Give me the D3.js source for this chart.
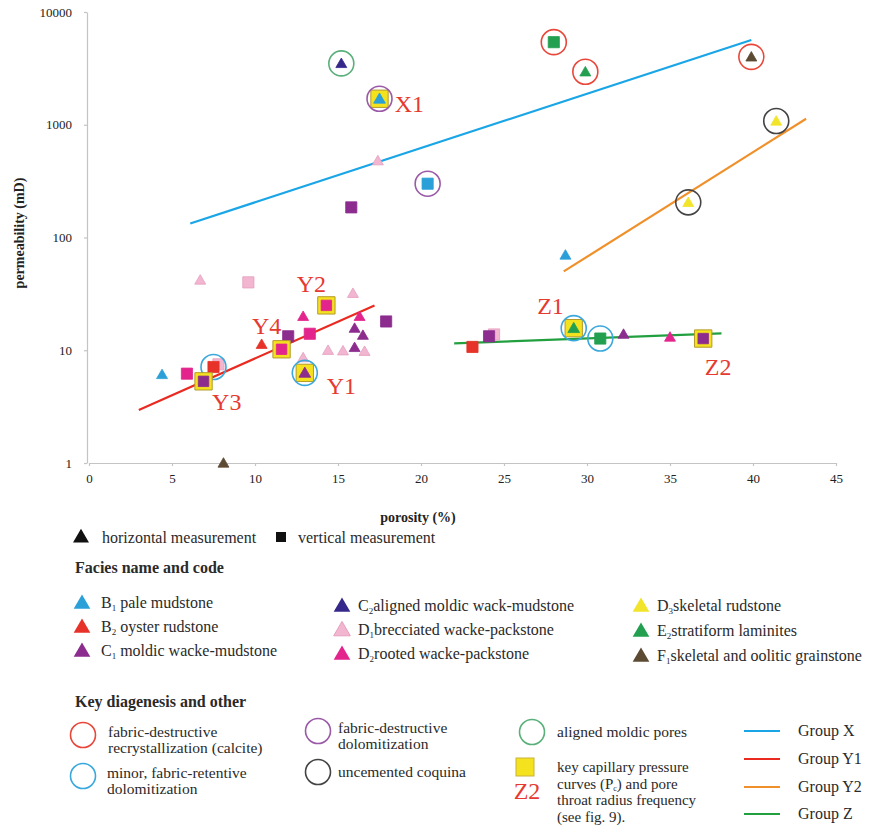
<!DOCTYPE html>
<html>
<head>
<meta charset="utf-8">
<script src="https://cdn.jsdelivr.net/npm/d3@7"></script>
<style>
  body { margin: 0; background: #fff; }
  svg { display: block; font-family: "Liberation Serif", "Times New Roman", serif; }
</style>
</head>
<body>
<svg id="chart" width="878" height="828"></svg>
<script>
// ---- data ----------------------------------------------------------------
const xTicks = [0, 5, 10, 15, 20, 25, 30, 35, 40, 45];
const yTicks = [1, 10, 100, 1000, 10000];

// facies: code letter + subscript, and name
const faciesCodes = ["B1", "B2", "C1", "C2", "D1", "D2", "D3", "E2", "F1"];
const faciesNames = {
  B1: "pale mudstone", B2: "oyster rudstone", C1: "moldic wacke-mudstone",
  C2: "aligned moldic wack-mudstone", D1: "brecciated wacke-packstone",
  D2: "rooted wacke-packstone", D3: "skeletal rudstone",
  E2: "stratiform laminites", F1: "skeletal and oolitic grainstone"
};

// samples: [facies, measurement (h = horizontal, v = vertical), porosity %, permeability mD, diagenesis, key sample]
const samples = [
  ["C2", "h", 15.2, 3500, "aligned", false],
  ["B1", "h", 17.5, 1700, "dolo", true],
  ["D1", "h", 17.4, 480, null, false],
  ["B1", "v", 20.4, 300, "dolo", false],
  ["C1", "v", 15.8, 185, null, false],
  ["E2", "v", 28.0, 5400, "recryst", false],
  ["E2", "h", 29.9, 2950, "recryst", false],
  ["F1", "h", 39.9, 4000, "recryst", false],
  ["D3", "h", 41.4, 1080, "coquina", false],
  ["D3", "h", 36.1, 205, "coquina", false],
  ["B1", "h", 28.7, 70, null, false],
  ["D1", "h", 6.7, 42, null, false],
  ["D1", "v", 9.6, 40, null, false],
  ["D2", "v", 14.3, 25, null, true],
  ["D1", "h", 15.9, 32, null, false],
  ["D2", "h", 12.9, 20, null, false],
  ["D2", "h", 16.3, 20, null, false],
  ["C1", "v", 17.9, 18, null, false],
  ["C1", "h", 16.0, 15.7, null, false],
  ["C1", "h", 16.5, 13.6, null, false],
  ["C1", "v", 12.0, 13.3, null, false],
  ["D2", "v", 13.3, 14, null, false],
  ["B2", "h", 10.4, 11.3, null, false],
  ["D2", "v", 11.6, 10.2, null, true],
  ["D1", "h", 14.4, 10, null, false],
  ["D1", "h", 15.3, 9.9, null, false],
  ["C1", "h", 16.0, 10.6, null, false],
  ["D1", "h", 16.6, 9.8, null, false],
  ["D1", "h", 12.9, 8.6, null, false],
  ["C1", "h", 13.0, 6.3, "minorDolo", true],
  ["B1", "h", 4.4, 6.1, null, false],
  ["D2", "v", 5.9, 6.2, null, false],
  ["D1", "v", 7.8, 7.5, null, false],
  ["B2", "v", 7.5, 7.1, "minorDolo", false],
  ["C1", "v", 6.9, 5.3, null, true],
  ["F1", "h", 8.1, 1.0, null, false],
  ["B2", "v", 23.1, 10.7, null, false],
  ["D1", "v", 24.4, 13.8, null, false],
  ["C1", "v", 24.1, 13.3, null, false],
  ["E2", "h", 29.2, 15.7, "minorDolo", true],
  ["E2", "v", 30.8, 12.7, "minorDolo", false],
  ["C1", "h", 32.2, 13.9, null, false],
  ["D2", "h", 35.0, 13.1, null, false],
  ["C1", "v", 37.0, 12.7, null, true]
];

// trend lines: [group, [porosity, permeability] start, end]
const groups = [
  ["Group X", [6.1, 133], [39.9, 5650]],
  ["Group Y1", [3.0, 2.95], [17.2, 25]],
  ["Group Y2", [28.6, 50], [43.2, 1130]],
  ["Group Z", [22.0, 11.5], [38.1, 14.1]]
];

// key sample labels: [name, porosity, permeability]
const keyLabels = [
  ["X1", 19.3, 1535], ["Y2", 13.4, 39], ["Y4", 10.7, 16.6], ["Y1", 15.2, 4.9],
  ["Y3", 8.3, 3.47], ["Z1", 27.8, 25], ["Z2", 37.9, 7.2]
];

// diagenesis legend
const diagenesis = [
  ["recryst", ["fabric-destructive", "recrystallization (calcite)"]],
  ["minorDolo", ["minor, fabric-retentive", "dolomitization"]],
  ["dolo", ["fabric-destructive", "dolomitization"]],
  ["coquina", ["uncemented coquina"]],
  ["aligned", ["aligned moldic pores"]]
];

// ---- styles ----------------------------------------------------------------
const faciesColor = {
  B1: "#2a9fd8", B2: "#e63228", C1: "#8b2c8e", C2: "#35288a", D1: "#f2b6d0",
  D2: "#e2248c", D3: "#f2e42a", E2: "#22a050", F1: "#5c4a32"
};
const faciesStroke = { D1: "#e59ebf" };
const ringColor = {
  recryst: "#e8473a", minorDolo: "#3aa8dc", dolo: "#9a5aa8",
  coquina: "#444444", aligned: "#5ab07a"
};
const groupColor = {
  "Group X": "#1aa6e6", "Group Y1": "#ea2a20", "Group Y2": "#f0902a", "Group Z": "#22a040"
};
const labelRed = "#e63a30";

// ---- chart -----------------------------------------------------------------
const svg = d3.select("#chart");
const x = d3.scaleLinear().domain([0, 45]).range([89, 836]);
const y = d3.scaleLog().domain([1, 10000]).range([463, 12]);

// axes
const axisColor = "#c4c4c4";
const xAxis = svg.append("g").attr("transform", `translate(0,${y(1)})`)
  .call(d3.axisBottom(x).tickValues(xTicks).tickSize(3).tickPadding(8).tickSizeOuter(0));
const yAxis = svg.append("g").attr("transform", `translate(${x(0) - 2},0)`)
  .call(d3.axisLeft(y).tickValues(yTicks).tickFormat(d3.format("d")).tickSize(3).tickPadding(12).tickSizeOuter(0));
[xAxis, yAxis].forEach(g => {
  g.attr("font-family", null);
  g.selectAll("path, line").attr("stroke", axisColor).attr("stroke-width", 1.2);
  g.selectAll("text").attr("fill", "#222").style("font-size", "13px");
});

svg.append("text").attr("x", 418).attr("y", 522).attr("text-anchor", "middle")
  .style("font-weight", "bold").style("font-size", "14px").attr("fill", "#222").text("porosity (%)");
svg.append("text").attr("transform", "translate(24,233) rotate(-90)").attr("text-anchor", "middle")
  .style("font-weight", "bold").style("font-size", "14px").attr("fill", "#222").text("permeability (mD)");

// trend lines
svg.append("g").selectAll("line").data(groups).join("line")
  .attr("x1", d => x(d[1][0])).attr("y1", d => y(d[1][1]))
  .attr("x2", d => x(d[2][0])).attr("y2", d => y(d[2][1]))
  .attr("stroke", d => groupColor[d[0]]).attr("stroke-width", 2.2);

const tri = d3.symbol().type(d3.symbolTriangle);
const sq = d3.symbol().type(d3.symbolSquare);

// samples
const marks = svg.append("g");
samples.forEach(([f, m, px, pk, ring, key]) => {
  const g = marks.append("g").attr("transform", `translate(${x(px)},${y(pk)})`);
  if (key) {
    g.append("path").attr("d", sq.size(300)())
      .attr("fill", "#f4e21e").attr("stroke", "#b49a2a").attr("stroke-width", 1);
  }
  const col = faciesColor[f];
  if (m === "h") {
    g.append("path").attr("d", tri.size(key ? 60 : 52)()).attr("transform", "translate(0,1)")
      .attr("fill", col).attr("stroke", faciesStroke[f] || col).attr("stroke-width", 0.8);
  } else {
    g.append("path").attr("d", sq.size(key ? 110 : 125)())
      .attr("fill", col).attr("stroke", faciesStroke[f] || col).attr("stroke-width", 0.8);
  }
  if (ring) {
    g.append("circle").attr("r", 12.5).attr("fill", "none")
      .attr("stroke", ringColor[ring]).attr("stroke-width", 1.6);
  }
});

// key labels
svg.append("g").selectAll("text").data(keyLabels).join("text")
  .attr("x", d => x(d[1])).attr("y", d => y(d[2])).attr("dy", "0.35em")
  .attr("text-anchor", "middle").style("font-size", "24px").attr("fill", labelRed)
  .text(d => d[0]);

// ---- legend ----------------------------------------------------------------
const lg = svg.append("g").style("font-size", "16px").attr("fill", "#2a2a2a");

lg.append("path").attr("d", tri.size(110)()).attr("transform", "translate(81,538)").attr("fill", "#111");
lg.append("text").attr("x", 102).attr("y", 543).text("horizontal measurement");
lg.append("path").attr("d", sq.size(100)()).attr("transform", "translate(281,537)").attr("fill", "#111");
lg.append("text").attr("x", 298).attr("y", 543).text("vertical measurement");

lg.append("text").attr("x", 75).attr("y", 573).style("font-weight", "bold").text("Facies name and code");

const faciesCols = [
  { sx: 82, tx: 101, ys: [603, 627, 651] },
  { sx: 342, tx: 358, ys: [606, 630, 654] },
  { sx: 641, tx: 657, ys: [606, 631, 656] }
];
faciesCodes.forEach((code, i) => {
  const col = faciesCols[Math.floor(i / 3)];
  const cy = col.ys[i % 3];
  lg.append("path").attr("d", tri.size(120)()).attr("transform", `translate(${col.sx},${cy + 1})`)
    .attr("fill", faciesColor[code]).attr("stroke", faciesStroke[code] || "none");
  const t = lg.append("text").attr("x", col.tx).attr("y", cy + 5);
  t.append("tspan").text(code[0]);
  t.append("tspan").attr("dy", 3).style("font-size", "9px").text(code[1]);
  t.append("tspan").attr("dy", -3).text((i < 3 ? " " : "") + faciesNames[code]);
});

lg.append("text").attr("x", 75).attr("y", 707).style("font-weight", "bold").text("Key diagenesis and other");

const diagPos = {
  recryst: [83, 735, 108], minorDolo: [83, 776, 107], dolo: [318, 731, 338],
  coquina: [318, 772, 338], aligned: [532, 732, 557]
};
diagenesis.forEach(([k, lines]) => {
  const [cx, cy, tx] = diagPos[k];
  lg.append("circle").attr("cx", cx).attr("cy", cy).attr("r", 12.5)
    .attr("fill", "none").attr("stroke", ringColor[k]).attr("stroke-width", 1.6);
  const top = lines.length === 1 ? cy + 5 : cy + 2;
  lines.forEach((s, j) => {
    lg.append("text").attr("x", tx).attr("y", top + j * 16).style("font-size", "15.5px").text(s);
  });
});

// key sample legend
lg.append("rect").attr("x", 516).attr("y", 758).attr("width", 18).attr("height", 18)
  .attr("fill", "#f4e21e").attr("stroke", "#c9b23a");
lg.append("text").attr("x", 527).attr("y", 799).attr("text-anchor", "middle")
  .style("font-size", "24px").attr("fill", labelRed).text("Z2");
// each line is split into runs: [text, isSubscript]
const keyLines = [
  [["key capillary pressure", false]],
  [["curves (P", false], ["c", true], [") and pore", false]],
  [["throat radius frequency", false]],
  [["(see fig. 9).", false]]
];
keyLines.forEach((runs, j) => {
  let cx = 557;
  const base = 772 + j * 16.5;
  runs.forEach(([s, sub]) => {
    const t = lg.append("text").attr("x", cx).attr("y", base + (sub ? 2 : 0))
      .style("font-size", sub ? "8px" : "15px").text(s);
    cx += t.node().getComputedTextLength();
  });
});

// group legend
const gy = [731, 759, 787, 814];
groups.forEach(([name], i) => {
  lg.append("line").attr("x1", 744).attr("x2", 780).attr("y1", gy[i]).attr("y2", gy[i])
    .attr("stroke", groupColor[name]).attr("stroke-width", 2.2);
  lg.append("text").attr("x", 798).attr("y", gy[i] + 5).text(name);
});
</script>
</body>
</html>
